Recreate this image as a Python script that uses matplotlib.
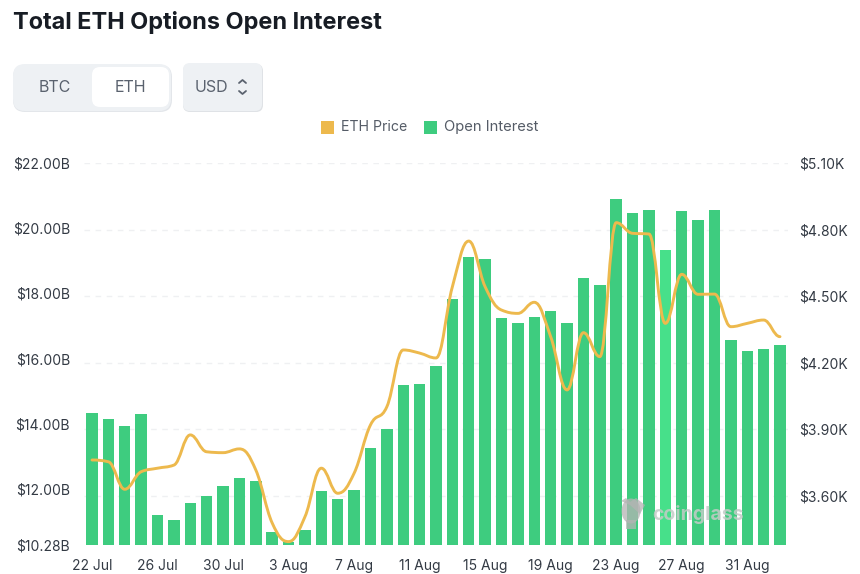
import matplotlib
matplotlib.use("Agg")
import matplotlib.pyplot as plt
from matplotlib.path import Path
from matplotlib.patches import PathPatch, FancyBboxPatch, Rectangle, Ellipse, Polygon

dates = ["22 Jul", "23 Jul", "24 Jul", "25 Jul", "26 Jul", "27 Jul", "28 Jul", "29 Jul", "30 Jul", "31 Jul",
         "1 Aug", "2 Aug", "3 Aug", "4 Aug", "5 Aug", "6 Aug", "7 Aug", "8 Aug", "9 Aug", "10 Aug",
         "11 Aug", "12 Aug", "13 Aug", "14 Aug", "15 Aug", "16 Aug", "17 Aug", "18 Aug", "19 Aug", "20 Aug",
         "21 Aug", "22 Aug", "23 Aug", "24 Aug", "25 Aug", "26 Aug", "27 Aug", "28 Aug", "29 Aug", "30 Aug",
         "31 Aug", "1 Sep", "2 Sep"]
open_interest = [14.32, 14.15, 13.92, 14.31, 11.19, 11.04, 11.56, 11.77, 12.08, 12.33, 12.25,
                 10.67, 10.38, 10.73, 11.95, 11.69, 11.96, 13.25, 13.83, 15.18, 15.22, 15.77,
                 17.83, 19.13, 19.05, 17.24, 17.08, 17.27, 17.46, 17.08, 18.48, 18.25, 20.90,
                 20.47, 20.56, 19.34, 20.54, 20.26, 20.55, 16.57, 16.22, 16.28, 16.42]
eth_price = [3.761, 3.753, 3.629, 3.708, 3.724, 3.738, 3.874, 3.798, 3.794, 3.811, 3.716,
             3.477, 3.393, 3.505, 3.724, 3.611, 3.701, 3.919, 4.001, 4.257, 4.243, 4.221,
             4.542, 4.748, 4.542, 4.437, 4.422, 4.472, 4.317, 4.077, 4.335, 4.227, 4.831,
             4.783, 4.780, 4.377, 4.598, 4.508, 4.509, 4.362, 4.377, 4.392, 4.317]
left_ticks = [10.28, 12, 14, 16, 18, 20, 22]
left_labels = ["$10.28B", "$12.00B", "$14.00B", "$16.00B", "$18.00B", "$20.00B", "$22.00B"]
right_ticks = [3.6, 3.9, 4.2, 4.5, 4.8, 5.1]
right_labels = ["$3.60K", "$3.90K", "$4.20K", "$4.50K", "$4.80K", "$5.10K"]
highlighted = "26 Aug"

GREEN, GREEN_HI, YELLOW = "#3ECC7F", "#47E08A", "#EDB94D"
W, H = 860, 574
plt.rcParams["font.family"] = ["Inter", "DejaVu Sans"]

fig = plt.figure(figsize=(W / 100, H / 100), dpi=100, facecolor="white")
L, R, T, B = 83.8, 788.2, 163.0, 545.0
rect = [L / W, 1 - B / H, (R - L) / W, (B - T) / H]
price_bottom = 5.1 - (B - T) / 221.8

# gridlines follow the right-hand axis and sit beneath the bars
grid_ax = fig.add_axes(rect, zorder=0)
grid_ax.set_xlim(-0.5, len(dates) - 0.5)
grid_ax.set_ylim(price_bottom, 5.1)
grid_ax.set_yticks(right_ticks, [""] * len(right_ticks))
grid_ax.set_xticks([])
grid_ax.yaxis.grid(True, color="#EFF0F2", linestyle=(0, (4, 4)), linewidth=1)
grid_ax.tick_params(length=0)

ax = fig.add_axes(rect, zorder=1, facecolor="none")
ax2 = ax.twinx()
ax2.set_zorder(2)
ax.set_xlim(-0.5, len(dates) - 0.5)
ax.set_ylim(left_ticks[0], left_ticks[-1])
ax2.set_ylim(price_bottom, 5.1)

x = list(range(len(dates)))
colors = [GREEN_HI if d == highlighted else GREEN for d in dates]
ax.bar(x, open_interest, width=0.70, color=colors, zorder=3)
for a in (grid_ax, ax, ax2):
    for s in a.spines.values():
        s.set_visible(False)
    a.tick_params(length=0)
ax.set_xticks(x[::4], dates[::4], fontsize=10, color="#333A44")
ax.tick_params(axis="x", pad=10)
ax.set_yticks(left_ticks, left_labels, fontsize=10, color="#333A44")
ax.tick_params(axis="y", pad=10)
ax2.set_yticks(right_ticks, right_labels, fontsize=10, color="#333A44")
ax2.tick_params(axis="y", pad=8)

# smooth price line: cubic Bezier through every daily reading, flat at turning points
k = 0.40
n = len(x)
def slope(i):
    if i == 0 or i == n - 1:
        return 0.0
    a, b = eth_price[i] - eth_price[i - 1], eth_price[i + 1] - eth_price[i]
    if a * b <= 0:
        return 0.0
    s = (a + b) / 2
    lim = min(abs(a), abs(b)) * 2
    return max(-lim, min(lim, s))
verts, codes = [(x[0], eth_price[0])], [Path.MOVETO]
for i in range(n - 1):
    verts += [(x[i] + k, eth_price[i] + k * slope(i)),
              (x[i + 1] - k, eth_price[i + 1] - k * slope(i + 1)),
              (x[i + 1], eth_price[i + 1])]
    codes += [Path.CURVE4] * 3
ax2.add_patch(PathPatch(Path(verts, codes), fill=False, edgecolor=YELLOW, linewidth=2.1,
                        zorder=5, capstyle="round", joinstyle="round"))

# page furniture in pixel coordinates
ui = fig.add_axes([0, 0, 1, 1], facecolor="none", zorder=5)
ui.set_xlim(0, W)
ui.set_ylim(H, 0)
ui.axis("off")

def box(x0, y0, x1, y1, r, fc, z=2, ec="none"):
    ui.add_patch(FancyBboxPatch((x0 + r, y0 + r), x1 - x0 - 2 * r, y1 - y0 - 2 * r,
                                boxstyle=f"round,pad={r},rounding_size={r}",
                                fc=fc, ec=ec, lw=1, zorder=z))

ui.text(13, 22, "Total ETH Options Open Interest", fontsize=16.9, fontweight="bold",
        color="#171C24", va="center", ha="left")
box(13, 65, 172, 112, 12, "#E3E6EA", 1)
box(13, 64, 171, 111, 12, "#EEF1F4", 2)
box(92, 67, 169, 107, 8, "#FFFFFF", 3)
box(183, 64, 263, 112, 7, "#DFE2E6", 1)
box(183, 63, 262, 111, 7, "#EEF1F4", 2)
for px, s in ((55, "BTC"), (130, "ETH")):
    ui.text(px, 87.5, s, fontsize=11.5, color="#5A626E", ha="center", va="center", zorder=4)
ui.text(211, 87.5, "USD", fontsize=11.5, color="#5A626E", ha="center", va="center", zorder=4)
ui.plot([239, 242.5, 246], [83, 80, 83], color="#5A626E", lw=1.3, zorder=4, solid_capstyle="round")
ui.plot([239, 242.5, 246], [91, 94, 91], color="#5A626E", lw=1.3, zorder=4, solid_capstyle="round")

ui.add_patch(Rectangle((321, 121), 13, 13, fc=YELLOW, ec="none"))
ui.text(341, 127, "ETH Price", fontsize=10.2, color="#555C67", va="center", ha="left")
ui.add_patch(Rectangle((424, 121), 13, 13, fc=GREEN, ec="none"))
ui.text(444, 127, "Open Interest", fontsize=10.6, color="#555C67", va="center", ha="left")

# watermark
WM = "#B4B4B4"
ui.add_patch(Ellipse((631, 511), 19, 25, fc=WM, ec="none", alpha=0.75, zorder=6))
ui.add_patch(Polygon([(621, 501), (626, 498), (630, 502), (636, 498), (645, 505), (640, 514), (630, 505)],
                     fc=WM, ec="none", alpha=0.75, zorder=6))
ui.add_patch(Rectangle((626, 520), 10, 9, fc=WM, ec="none", alpha=0.75, zorder=6))
ui.text(652, 514, "coinglass", fontsize=14, fontweight="bold", color="#C4CBC7", alpha=0.85,
        va="center", ha="left", zorder=6)

fig.savefig("out.png", dpi=100, facecolor="white")
